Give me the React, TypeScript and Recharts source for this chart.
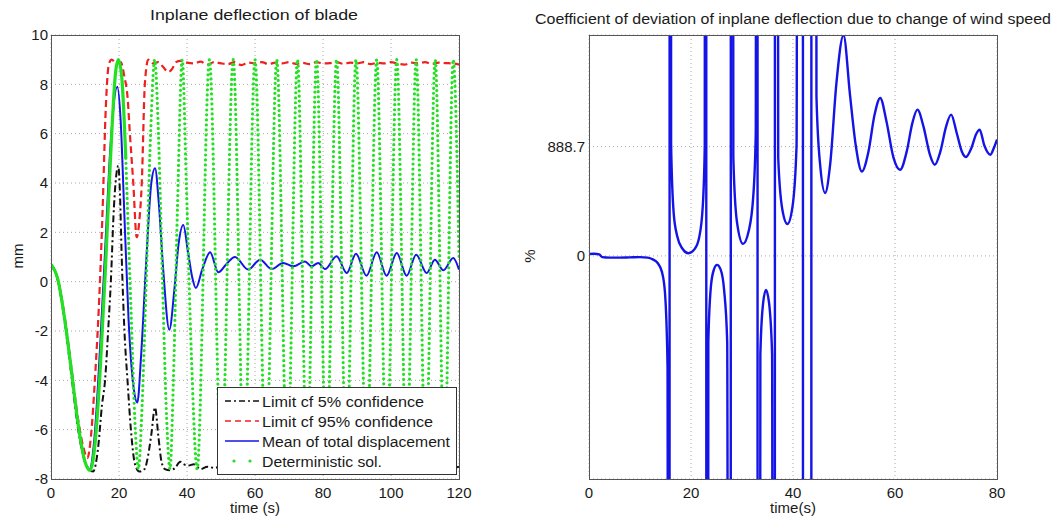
import { CartesianGrid, Line, LineChart, XAxis, YAxis } from 'recharts'

type Pt = [number, number]

const FONT = 'Liberation Sans, Arial, Helvetica, sans-serif'

const leftTicksX = [0, 20, 40, 60, 80, 100, 120]
const leftTicksY = [-8, -6, -4, -2, 0, 2, 4, 6, 8, 10]
const rightTicksX = [0, 20, 40, 60, 80]
const rightTicksY = [0, 888.7]

// time (s) , deflection (mm)
const limit5: Pt[] = [
  [0, 0.7], [2, 0.05], [4, -1.6], [6, -3.8], [8, -6], [10, -7.3], [12.4, -7.7], [13.8, -6.8],
  [15, -5], [15.9, -4], [16.8, -2], [17.6, 0], [18.5, 3], [19.8, 4.7], [20.3, 3.5], [20.8, 1],
  [21.6, -2], [22.5, -4], [23.5, -6], [24.7, -7.4], [26, -7.7], [27.5, -7.6], [28.5, -7.1],
  [29.5, -6.2], [30.6, -5.1], [31.6, -6.3], [32.5, -7.3], [33.5, -7.6], [35, -7.65], [36.5, -7.55],
  [38, -7.3], [39, -7.4], [40.5, -7.45], [42, -7.4], [44, -7.6], [46, -7.5], [48, -7.55], [50, -7.5],
  [60, -7.55], [70, -7.5], [80, -7.55], [90, -7.5], [100, -7.55], [110, -7.5], [118, -7.55], [120, -7.5],
]

const limit95: Pt[] = [
  [0, 0.7], [2, 0.1], [4, -1.4], [6, -3.5], [8, -5.6], [9.5, -6.7], [10.7, -7.15], [11.8, -6.2],
  [12.9, -4], [14.4, 0], [15.2, 3], [16.1, 7], [17, 8.8], [17.8, 9], [19, 8.9], [20.5, 8.9],
  [21.6, 8.3], [22.5, 7.5], [23.2, 6], [24.2, 4], [25.2, 1.8], [26, 2.5], [26.7, 4], [27.6, 8],
  [28.6, 9], [30, 8.85], [31.5, 8.9], [33, 8.7], [34.5, 8.5], [35.5, 8.6], [36.8, 8.9], [38, 8.95],
  [40, 8.88], [42, 8.85], [44, 8.92], [46, 8.8], [48, 8.9], [50, 8.85], [52, 8.82], [54, 8.9],
  [56, 8.78], [58, 8.88], [60, 8.85], [62, 8.9], [64, 8.82], [66, 8.88], [68, 8.85], [70, 8.9],
  [72, 8.83], [74, 8.87], [76, 8.82], [78, 8.9], [80, 8.85], [82, 8.86], [84, 8.9], [86, 8.83],
  [88, 8.88], [90, 8.85], [92, 8.9], [94, 8.82], [96, 8.87], [98, 8.85], [100, 8.9], [102, 8.84],
  [104, 8.8], [106, 8.88], [108, 8.85], [110, 8.9], [112, 8.83], [114, 8.88], [116, 8.86],
  [118, 8.85], [120, 8.8],
]

const meanDisp: Pt[] = [
  [0, 0.7], [2, 0.1], [4, -1.5], [6, -3.6], [8, -5.8], [10, -7.3], [11.3, -7.6], [12.8, -6.3],
  [14.5, -2.5], [16, 1.5], [17.5, 5.5], [19.5, 7.9], [20.5, 6.5], [21.5, 3], [22.8, -1.5],
  [24.3, -4.3], [25.4, -4.9], [26.5, -3], [28, 0.8], [29.5, 4], [30.6, 4.6], [31.7, 3.2],
  [33, 0.5], [34.8, -1.95], [36.3, -0.3], [37.5, 1.5], [38.9, 2.3], [40.3, 1.2], [41.5, 0.2],
  [42.6, -0.26], [44.5, 0.5], [46.8, 1.19], [49.2, 0.38], [51.5, 0.7], [54.1, 1.0], [58, 0.49],
  [61.5, 0.89], [64.9, 0.51], [68.3, 0.76], [71.3, 0.62], [74.7, 0.82], [76.6, 0.62], [78.6, 0.76],
  [80.6, 0.51], [84, 1.03], [87, 0.35], [89.7, 1.13], [92.8, 0.24], [95.8, 1.19], [98.7, 0.24],
  [101.7, 1.16], [104.6, 0.24], [107.4, 1.09], [110.5, 0.35], [112.9, 0.89], [115.4, 0.46],
  [118.3, 0.96], [120, 0.49],
]

const deterministic: Pt[] = [
  [0, 0.7], [2, 0.1], [4, -1.5], [6, -3.6], [8, -5.8], [10, -7.3], [11.5, -7.65], [13, -6.5],
  [14.5, -3.5], [16, 0.5], [17.5, 5], [19, 8.5], [19.8, 9], [20.8, 8.3], [22, 5], [23.5, -1],
  [24.8, -6], [25.7, -7.6], [26.8, -5], [28, 0], [29.3, 6], [30.5, 9], [31.6, 6], [32.8, 0],
  [34, -5.5], [35, -7.6], [36, -4], [37.2, 3], [38.6, 9], [39.8, 4], [41.3, -3], [43, -7.6],
  [46.6, 9], [50.1, -7.6], [53.6, 9], [56.8, -7.6], [60, 9], [63.2, -7.6], [66.4, 9], [69.5, -7.6],
  [72.5, 9], [75.3, -7.6], [78.1, 9], [81, -7.6], [84, 9], [86.9, -7.6], [89.7, 9], [92.8, -7.6],
  [95.8, 9], [98.7, -7.6], [101.7, 9], [104.6, -7.6], [107.4, 9], [110.2, -7.6], [113, 9],
  [115.7, -7.6], [118.3, 9], [120, 1],
]

// time (s) , coefficient of deviation (%)
const coefDev: Pt[] = [
  [0, 15], [1, 18], [2, 12], [2.6, -10], [4, -14], [6, -14], [8, -12], [10, -10], [11.5, -14],
  [12.5, -28], [13.5, -60], [14.3, -130], [14.9, -300], [15.4, -900], [15.75, -30000],
  [15.85, 30000], [16.1, 900], [16.6, 350], [17.3, 160], [18.3, 60], [19.5, 22], [20.7, 55],
  [21.6, 150], [22.3, 400], [22.7, 900], [22.95, 30000], [23.05, -30000], [23.4, -700],
  [23.9, -250], [24.5, -110], [25.1, -73], [25.8, -110], [26.5, -280], [27.1, -700],
  [27.75, -30000], [27.85, 30000], [28.3, 800], [29, 280], [30.2, 98], [31.3, 200], [32.2, 480],
  [32.7, 1000], [33.0, 30000], [33.1, -30000], [33.6, -800], [34.1, -400], [34.7, -277],
  [35.3, -380], [35.9, -800], [36.4, -30000], [36.5, 30000], [37.1, 800], [37.9, 380],
  [38.9, 260], [39.9, 400], [40.7, 900], [41.3, 30000], [41.9, 30000], [42.0, -30000],
  [43.55, -30000], [43.65, 30000], [44.2, 30000], [44.6, 1300], [45.3, 750], [46.3, 512],
  [47.3, 750], [48.5, 1400], [49.9, 1795], [51.2, 1300], [52.3, 900], [53.5, 687], [54.8, 850],
  [56, 1150], [57.1, 1285], [58.3, 1100], [59.7, 800], [61, 701], [62.3, 850], [63.4, 1080],
  [64.4, 1190], [65.6, 1050], [66.8, 830], [67.8, 742], [68.9, 850], [70, 1050], [71, 1149],
  [72.1, 1000], [73.1, 850], [73.9, 805], [75, 880], [75.9, 990], [76.6, 1027], [77.5, 900],
  [78.7, 823], [79.4, 880], [80, 946],
]

const legendLabels = [
  'Limit cf 5% confidence',
  'Limit cf 95% confidence',
  'Mean of total displacement',
  'Deterministic sol.',
]

const rows = (pts: Pt[]) => pts.map(([t, v]) => ({ t, v }))

// the deterministic curve reads as a solid line early on, dotted once it gets steep
const detEarly = rows(deterministic.filter(([t]) => t <= 22))
const detLate = rows(deterministic.filter(([t]) => t >= 22))

const tickStyle = { fontSize: 15, fill: '#1a1a1a', fontFamily: FONT }
const gridColor = '#a8a8a8'

const LeftChart = () => (
  <LineChart width={480} height={520} margin={{ top: 35, right: 21, bottom: 11, left: 11 }}>
    <CartesianGrid stroke={gridColor} strokeDasharray="1 3" />
    <XAxis
      dataKey="t"
      type="number"
      domain={[0, 120]}
      ticks={leftTicksX}
      allowDataOverflow
      axisLine={false}
      tickLine={false}
      tick={tickStyle}
      height={30}
    />
    <YAxis
      type="number"
      domain={[-8, 10]}
      ticks={leftTicksY}
      allowDataOverflow
      axisLine={false}
      tickLine={false}
      tickSize={2}
      tickMargin={1}
      tick={tickStyle}
      width={40}
    />
    <Line data={rows(limit5)} dataKey="v" type="monotone" stroke="#111" strokeWidth={2}
      strokeDasharray="7 3 2 3" dot={false} isAnimationActive={false} />
    <Line data={rows(limit95)} dataKey="v" type="monotone" stroke="#ee2020" strokeWidth={2.2}
      strokeDasharray="7 4" dot={false} isAnimationActive={false} />
    <Line data={rows(meanDisp)} dataKey="v" type="monotone" stroke="#1414e6" strokeWidth={2}
      dot={false} isAnimationActive={false} />
    <Line data={detEarly} dataKey="v" type="monotone" stroke="#22e022" strokeWidth={3.2}
      dot={false} isAnimationActive={false} />
    <Line data={detLate} dataKey="v" type="monotone" stroke="#22e022" strokeWidth={3.2}
      strokeDasharray="0 5" strokeLinecap="round" dot={false} isAnimationActive={false} />
  </LineChart>
)

const RightChart = () => (
  <LineChart width={545} height={520} margin={{ top: 35, right: 58, bottom: 11, left: 19 }}>
    <CartesianGrid stroke={gridColor} strokeDasharray="1 3" />
    <XAxis
      dataKey="t"
      type="number"
      domain={[0, 80]}
      ticks={rightTicksX}
      allowDataOverflow
      axisLine={false}
      tickLine={false}
      tick={tickStyle}
      height={30}
    />
    <YAxis
      type="number"
      domain={[-1815, 1797]}
      ticks={rightTicksY}
      allowDataOverflow
      axisLine={false}
      tickLine={false}
      tickSize={2}
      tickMargin={2}
      tick={tickStyle}
      width={60}
    />
    <Line data={rows(coefDev)} dataKey="v" type="monotone" stroke="#1414e6" strokeWidth={2.4}
      dot={false} isAnimationActive={false} />
  </LineChart>
)

const Overlay = () => {
  const rowY = [401, 421, 441, 461]
  return (
    <svg width={1055} height={520}
      style={{ position: 'absolute', left: 0, top: 0, pointerEvents: 'none' }}
      fontFamily={FONT} fill="#1a1a1a">
      <rect x={51.5} y={35.5} width={408} height={444} fill="none" stroke="#555" />
      <rect x={589.5} y={35.5} width={408} height={444} fill="none" stroke="#555" />

      <text x={150} y={20} fontSize={15} textLength={208} lengthAdjust="spacingAndGlyphs">
        Inplane deflection of blade
      </text>
      <text x={535} y={24} fontSize={14} textLength={516} lengthAdjust="spacingAndGlyphs">
        Coefficient of deviation of inplane deflection due to change of wind speed
      </text>
      <text x={255} y={513} fontSize={15} textAnchor="middle">time (s)</text>
      <text x={793} y={513} fontSize={15} textAnchor="middle">time(s)</text>
      <text transform="translate(23,256) rotate(-90)" fontSize={15} textAnchor="middle">mm</text>
      <text transform="translate(535,256) rotate(-90)" fontSize={15} textAnchor="middle">%</text>

      <rect x={217.5} y={387.5} width={239} height={87} fill="#fff" stroke="#333" />
      <line x1={225} x2={259} y1={rowY[0]} y2={rowY[0]} stroke="#111" strokeWidth={1.5}
        strokeDasharray="6 3 2 3" />
      <line x1={225} x2={259} y1={rowY[1]} y2={rowY[1]} stroke="#ee2020" strokeWidth={1.5}
        strokeDasharray="6 4" />
      <line x1={225} x2={259} y1={rowY[2]} y2={rowY[2]} stroke="#1414e6" strokeWidth={1.5} />
      <circle cx={234} cy={rowY[3]} r={1.6} fill="#22e022" />
      <circle cx={250} cy={rowY[3]} r={1.6} fill="#22e022" />
      {legendLabels.map((label, i) => (
        <text key={label} x={262} y={rowY[i] + 5.5} fontSize={15.5}
          textLength={[162, 171, 188, 120][i]} lengthAdjust="spacingAndGlyphs">
          {label}
        </text>
      ))}
    </svg>
  )
}

export default function App() {
  return (
    <div style={{ position: 'absolute', left: 0, top: 0, width: 1055, height: 520, background: '#fff' }}>
      <div style={{ position: 'absolute', left: 0, top: 0 }}>
        <LeftChart />
      </div>
      <div style={{ position: 'absolute', left: 510, top: 0 }}>
        <RightChart />
      </div>
      <Overlay />
    </div>
  )
}
